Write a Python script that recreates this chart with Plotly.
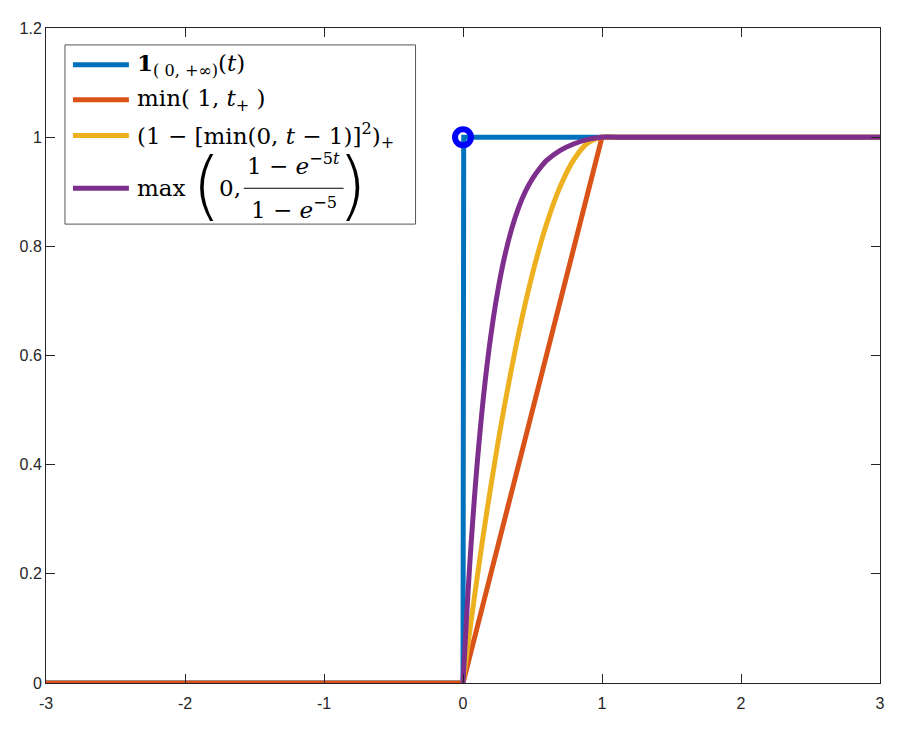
import plotly.graph_objects as go

# values
t_step = [-3, 0, 0.005, 3]
y_step = [0, 0, 1, 1]

t_ramp = [-3, 0, 1, 3]
y_ramp = [0, 0, 1, 1]

t_quad = [0, 0.05, 0.1, 0.15, 0.2, 0.25, 0.3, 0.4, 0.5, 0.6, 0.7, 0.8, 0.9, 1.0, 1.1, 1.5, 2, 3]
y_quad = [0, 0.098, 0.19, 0.278, 0.36, 0.438, 0.51, 0.64, 0.75, 0.84, 0.91, 0.96, 0.99, 1.0, 1.0, 1.0, 1.0, 1.0]

t_exp = [0, 0.025, 0.05, 0.075, 0.1, 0.15, 0.2, 0.25, 0.3, 0.35, 0.4, 0.45, 0.5, 0.55, 0.6, 0.7, 0.8,
         0.9, 1.0, 1.1, 1.5, 2, 3]
y_exp = [0, 0.118, 0.223, 0.315, 0.396, 0.531, 0.636, 0.718, 0.782, 0.832, 0.871, 0.901, 0.924, 0.942,
         0.957, 0.976, 0.988, 0.996, 1.0, 1.0, 1.0, 1.0, 1.0]

x_ticks = [-3, -2, -1, 0, 1, 2, 3]
x_labels = ["-3", "-2", "-1", "0", "1", "2", "3"]
y_ticks = [0, 0.2, 0.4, 0.6, 0.8, 1.0, 1.2]
y_labels = ["0", "0.2", "0.4", "0.6", "0.8", "1", "1.2"]

colors = ["#0072BD", "#D95319", "#EDB120", "#7E2F8E"]

# page has an 8px body margin
OFF = 8
W, H = 906, 728
ML, MR, MT, MB = 37, 34, 17, 53


def px(x, y):
    # screen pixel -> paper coords
    return (x - OFF - ML) / (W - ML - MR), (OFF + H - MB - y) / (H - MT - MB)


fig = go.Figure()
fig.add_trace(go.Scatter(x=t_step, y=y_step, mode="lines", line=dict(color=colors[0], width=5)))
fig.add_trace(go.Scatter(x=t_ramp, y=y_ramp, mode="lines", line=dict(color=colors[1], width=5)))
fig.add_trace(go.Scatter(x=t_quad, y=y_quad, mode="lines",
                         line=dict(color=colors[2], width=5, shape="spline", smoothing=0.8)))
fig.add_trace(go.Scatter(x=t_exp, y=y_exp, mode="lines",
                         line=dict(color=colors[3], width=5, shape="spline", smoothing=0.8)))
# open circle at the jump
fig.add_trace(go.Scatter(x=[t_step[1]], y=[y_step[-1]], mode="markers",
                         marker=dict(symbol="circle-open", size=16, color="#0000FF",
                                     line=dict(width=6, color="#0000FF"))))

axis = dict(showgrid=False, zeroline=False, showline=True, linecolor="#262626", linewidth=1,
            mirror="ticks", ticks="inside", ticklen=9, tickcolor="#262626",
            tickfont=dict(family="Liberation Sans", size=16, color="#262626"))
fig.update_xaxes(range=[-3, 3], tickvals=x_ticks, ticktext=x_labels, ticklabelstandoff=6, **axis)
fig.update_yaxes(range=[0, 1.2], tickvals=y_ticks, ticktext=y_labels, **axis)

# legend drawn by hand so the fraction can be shown
shapes = []
annots = []
x0, y0 = px(64, 42)
x1, y1 = px(415, 222)
shapes.append(dict(type="rect", xref="paper", yref="paper", x0=x0, y0=y1, x1=x1, y1=y0,
                   line=dict(color="#555555", width=1), fillcolor="white", layer="above"))
row_y = [62, 97, 133, 186]
for c, ry in zip(colors, row_y):
    a, b = px(72, ry)
    a2, _ = px(128, ry)
    shapes.append(dict(type="line", xref="paper", yref="paper", x0=a, x1=a2, y0=b, y1=b,
                       line=dict(color=c, width=5), layer="above"))

serif = dict(family="DejaVu Serif", size=23, color="black")
texts = [
    "<b>1</b><sub>( 0, +∞)</sub>(<i>t</i>)",
    "min( 1, <i>t</i><sub>+</sub> )",
    "(1 − [min(0, <i>t</i> − 1)]<sup>2</sup>)<sub>+</sub>",
]
for txt, ry in zip(texts, row_y[:3]):
    a, b = px(134, ry)
    annots.append(dict(text=txt, x=a, y=b, xref="paper", yref="paper", xanchor="left",
                       yanchor="middle", showarrow=False, font=serif))

ry = row_y[3]
big = dict(family="DejaVu Sans", size=74, color="black", weight=200)
a, b = px(206, ry - 3)
annots.append(dict(text="(", x=a, y=b, xref="paper", yref="paper", xanchor="center",
                   yanchor="middle", showarrow=False, font=big))
a, b = px(352, ry - 3)
annots.append(dict(text=")", x=a, y=b, xref="paper", yref="paper", xanchor="center",
                   yanchor="middle", showarrow=False, font=big))
a, b = px(134, ry)
annots.append(dict(text="max", x=a, y=b, xref="paper", yref="paper", xanchor="left",
                   yanchor="middle", showarrow=False, font=serif))
a, b = px(216, ry)
annots.append(dict(text="0,", x=a, y=b, xref="paper", yref="paper", xanchor="left",
                   yanchor="middle", showarrow=False, font=serif))
a, b = px(293, ry - 24)
annots.append(dict(text="1 − <i>e</i><sup>−5<i>t</i></sup>", x=a, y=b, xref="paper", yref="paper",
                   xanchor="center", yanchor="middle", showarrow=False, font=serif))
a, b = px(293, ry + 20)
annots.append(dict(text="1 − <i>e</i><sup>−5</sup>", x=a, y=b, xref="paper", yref="paper",
                   xanchor="center", yanchor="middle", showarrow=False, font=serif))
a, b = px(243, ry)
a2, _ = px(343, ry)
shapes.append(dict(type="line", xref="paper", yref="paper", x0=a, x1=a2, y0=b, y1=b,
                   line=dict(color="black", width=1), layer="above"))

fig.update_layout(width=W, height=H, margin=dict(l=ML, r=MR, t=MT, b=MB),
                  plot_bgcolor="white", paper_bgcolor="white", showlegend=False,
                  shapes=shapes, annotations=annots)

fig.write_html("out.html")
